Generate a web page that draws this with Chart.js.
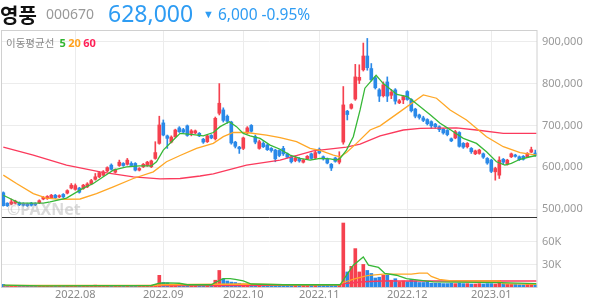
<!DOCTYPE html>
<html>
<head>
<meta charset="utf-8">
<script src="https://cdn.jsdelivr.net/npm/chart.js@4/dist/chart.umd.min.js"></script>
<style>
  html, body { margin: 0; padding: 0; background: #fff; }
  #wrap { position: relative; width: 594px; height: 304px; overflow: hidden; font-family: 'Noto Sans', 'Noto Sans CJK KR', sans-serif; }
  #chart { position: absolute; left: 0; top: 0; }
  .t { position: absolute; white-space: nowrap; line-height: 1; }
</style>
</head>
<body>
<div id="wrap">
  <canvas id="chart" width="594" height="304"></canvas>
  <span class="t" style="left:0;top:0;font:bold 20px 'Noto Sans CJK KR';color:#111">영풍</span>
  <span class="t" style="left:46px;top:4px;font:14px 'Noto Sans';color:#999">000670</span>
  <span class="t" style="left:108px;top:-3px;font:23px 'Noto Sans';color:#2e9cf3">628,000</span>
  <span class="t" style="left:203px;top:3px;font:15.5px 'Noto Sans';color:#2e9cf3"><span style="font-size:11px;position:relative;top:-2px">▼</span> 6,000 -0.95%</span>
  <span class="t" style="left:6px;top:35px;font:10.5px 'Noto Sans CJK KR';color:#888">이동평균선 <span style="font:bold 11px 'Noto Sans';color:#2fb52f">&nbsp;5</span> <span style="font:bold 11px 'Noto Sans';color:#ffa21f">20</span> <span style="font:bold 11px 'Noto Sans';color:#ff1f55">60</span></span>
  <span class="t" style="left:7px;top:198px;font:bold 16px 'Noto Sans';color:rgba(150,150,150,0.35)">©PAXNet</span>
</div>
<script>
// daily candles, thousand won (2022-07-06 .. 2023-01-17)
const opens  = [539,514,512,514,515,513,512,514,513,515,524,525,527,533,529,535,538,550,547,550,549,553,560,571,577,581,591,605,588,604,609,607,609,609,593,601,604,601,621,657,706,675,660,673,694,690,699,681,682,681,667,661,676,668,729,737,722,708,660,648,645,682,700,673,645,657,653,645,641,640,645,632,625,616,621,612,620,632,622,643,625,620,607,622,612,660,734,741,763,808,833,866,836,814,785,771,804,772,785,754,761,781,762,739,725,718,714,709,703,697,691,688,668,670,683,657,649,645,632,633,632,621,617,589,581,619,607,625,629,625,626,625,636,634];
const highs  = [541,515,524,521,517,515,514,516,515,522,530,532,535,535,534,537,546,561,560,552,559,563,571,585,589,592,601,608,596,617,611,621,613,611,599,609,614,617,661,722,713,677,675,691,697,693,701,690,689,683,669,677,678,720,800,742,725,710,662,650,672,697,702,677,665,661,655,647,643,642,650,634,627,627,623,619,628,634,638,646,627,622,609,624,637,793,736,752,846,845,897,908,848,817,788,804,816,786,788,762,771,783,764,741,727,722,716,711,705,699,693,690,670,688,685,659,659,647,641,643,634,623,619,600,625,621,619,634,631,627,628,635,648,641];
const lows   = [507,506,510,512,508,507,506,507,508,513,522,523,525,525,527,527,536,548,545,538,547,551,558,569,575,579,589,593,586,602,602,605,602,591,591,599,602,599,619,655,675,645,658,671,683,682,674,675,680,673,657,659,668,665,725,708,705,655,646,633,642,680,684,656,643,647,640,636,613,625,628,622,610,613,612,610,618,619,620,632,617,608,592,612,608,655,713,739,760,800,830,832,806,787,757,768,757,764,751,752,752,760,732,718,715,709,701,693,693,685,679,675,661,668,648,645,646,633,630,631,621,607,587,569,573,606,605,623,624,616,617,623,635,626];
const closes = [508,508,517,519,510,509,508,509,510,520,528,530,533,527,532,529,544,557,556,540,557,560,568,577,587,589,599,595,594,612,604,617,604,593,597,607,612,615,635,701,677,669,672,689,685,684,676,687,687,675,660,675,670,717,753,712,710,658,650,644,670,694,686,660,661,649,642,640,620,628,632,624,613,622,615,617,626,621,635,634,620,610,598,614,620,749,726,750,816,815,866,838,809,790,770,797,770,779,758,759,769,762,735,722,719,712,704,699,697,690,682,678,663,685,650,648,657,637,639,641,624,610,590,597,617,612,617,632,626,618,619,633,642,628];
// volume, thousand shares
const volumes = [3.5,1.5,1.2,1.5,1.2,1.0,1.2,1.0,1.2,1.5,1.5,1.5,1.3,1.2,1.2,1.3,1.5,2,1.5,1.5,1.5,1.5,1.8,2.5,1.5,1.8,1.5,2.2,1.5,2.2,1.5,1.5,1.5,1.8,1.5,1.5,1.5,1.8,3.5,15.5,6,5.5,3,3,3.5,3,3,2.5,2.5,3,2.5,3,3,9,22,11,8,6.5,6,5,4,4,3.5,3,3,3,3,3,3,2.5,3,2.5,3,2.5,2.5,2.5,2.5,2.5,2.5,2.5,2.5,2.5,2.5,2.5,3.5,85,20,27.5,51,20,30,22,18,12,13,15.5,15.5,9,11,7,8,7,10,8,6,6,7,5,5,5,4.5,4.5,5,4.5,5,4.5,4.5,4,4,4.5,4,4.5,4.5,4,8,4,3.5,3.5,3.5,3,3,3.5,3.5,3];

// moving average lines: [day index, value]
const ma5 = [[0,533],[4,514],[10,514],[11.7,517],[15.8,526],[20,550],[22.5,561],[25,577],[27.5,593],[30.8,601],[34,603],[37,603],[38.3,613],[40,641],[42.5,665],[44.2,681],[47.5,678],[50,675],[52.5,683],[54.2,697],[56.5,709],[58.3,697],[60,681],[61.7,675],[64.2,669],[66.7,653],[69.2,643],[71.7,629],[74.2,621],[76.7,617],[79.2,621],[81.7,620],[83.3,617],[84.2,621],[85.8,641],[87.5,673],[89.2,737],[90.4,789],[93.2,820],[95,800],[98.4,774],[101,769],[102.6,757],[104.7,741],[106.8,725],[109.2,705],[111.7,690],[115,669],[118.3,657],[120.8,637],[123.3,613],[125.4,605],[127,609],[129.2,619],[131.7,625],[133.3,628]];
const ma20 = [[0,581],[3.3,561],[7.5,537],[10.8,526],[14.2,523],[19.2,524],[23.3,537],[27.5,553],[32.5,573],[37.5,589],[40.8,613],[44.2,628],[48.3,645],[52.5,657],[55,673],[57.5,683],[60.8,683],[65.8,677],[69.2,671],[73.3,661],[76.7,645],[79.2,640],[82.5,629],[84.2,625],[85.8,635],[88.3,657],[91.7,689],[94.2,699],[99.2,733],[105,773],[108.3,765],[111.7,737],[115.8,713],[120.8,673],[125,649],[129.2,635],[133.3,629]];
const ma60 = [[0,648],[7.5,629],[15.8,605],[24.2,589],[32.5,577],[39.2,572],[44.2,573],[49.2,579],[52.5,584],[60.8,605],[69.2,617],[77.5,639],[85.8,648],[89.2,655],[94.2,675],[100,689],[104.2,693],[113.3,694],[118.3,689],[125,681],[133.3,681]];
const vma5 = [[0,2.5],[10,1.5],[37,2],[39,5],[41,5.5],[44,5],[46,3],[52,3],[53,6],[55,11],[56.7,11],[58,10],[60,8],[62,4],[70,3],[84.2,3],[87.5,29],[90,40],[91.3,29],[93.8,26],[95.4,18],[98.3,15.6],[100.8,11],[107.5,6.7],[124.2,5.8],[133.3,4.5]];
const vma20 = [[0,2],[38,2],[40,3],[60,4],[70,3],[84,3],[85,6],[88,11],[91,15],[95,17],[102,17],[104,18.5],[106,18.5],[107,14],[109,10],[112,8],[124,8],[125,4.5],[133.3,3.5]];
const vma60 = [[0,1.5],[60,2],[75,2.5],[84,2.8],[86,5],[90,7],[95,8],[133.3,8]];

const priceTicks = [500, 600, 700, 800, 900];
const volTicks = [30, 60];
const monthIdx = [18, 40, 60, 79, 101, 122];
const monthLabels = ['2022.08', '2022.09', '2022.10', '2022.11', '2022.12', '2023.01'];

const UP = '#f5414f', DOWN = '#2a89e8';
const G = '#37b837', O = '#ffa726', R = '#fb3a5c';
const colorOf = i => closes[i] >= opens[i] ? UP : DOWN;
const days = opens.map((_, i) => i);
const candleColors = days.map(colorOf);

const lineDs = (pts, color, axis) => ({
  type: 'line', data: pts.map(([x, y]) => ({ x, y })), yAxisID: axis,
  borderColor: color, borderWidth: 1.3, pointRadius: 0, tension: 0, order: 1
});

const frame = {
  id: 'frame',
  afterDatasetsDraw(chart) {
    const { ctx, chartArea: a, scales } = chart;
    ctx.save();
    ctx.strokeStyle = '#d0d0d0';
    ctx.lineWidth = 1;
    ctx.strokeRect(a.left - 0.5, a.top + 0.5, a.right - a.left + 0.5, a.bottom - a.top);
    ctx.strokeStyle = '#333';
    ctx.beginPath();
    const yy = Math.round(scales.yv.top) + 0.5;
    ctx.moveTo(a.left, yy);
    ctx.lineTo(a.right, yy);
    ctx.stroke();
    ctx.restore();
  }
};

const tickFont = { family: 'Noto Sans', size: 11 };

new Chart(document.getElementById('chart'), {
  type: 'bar',
  data: {
    datasets: [
      lineDs(ma5, G, 'y'), lineDs(ma20, O, 'y'), lineDs(ma60, R, 'y'),
      lineDs(vma5, G, 'yv'), lineDs(vma20, O, 'yv'), lineDs(vma60, R, 'yv'),
      { data: days.map(i => ({ x: i, y: [lows[i], highs[i]] })), yAxisID: 'y', backgroundColor: candleColors,
        barThickness: 1, grouped: false, order: 2 },
      { data: days.map(i => ({ x: i, y: [opens[i], closes[i]] })), yAxisID: 'y', backgroundColor: candleColors,
        barThickness: 3, minBarLength: 1, grouped: false, order: 2 },
      { data: days.map(i => ({ x: i, y: volumes[i] })), yAxisID: 'yv', backgroundColor: candleColors,
        barThickness: 3, grouped: false, order: 2 }
    ]
  },
  options: {
    responsive: false,
    animation: false,
    layout: { padding: { left: 2, top: 30, right: 0, bottom: 0 } },
    plugins: { legend: { display: false }, tooltip: { enabled: false } },
    scales: {
      x: {
        type: 'linear', min: -0.325, max: 133.425, offset: false,
        grid: { color: '#ececec', drawTicks: false, offset: false },
        border: { display: false },
        afterBuildTicks: s => { s.ticks = monthIdx.map(v => ({ value: v })); },
        afterFit: s => { s.height = 17; },
        ticks: { padding: 1, color: '#8a8a8a', font: tickFont, maxRotation: 0, autoSkip: false,
          callback: v => monthLabels[monthIdx.indexOf(v)] }
      },
      y: {
        type: 'linear', position: 'right', stack: 'main', stackWeight: 187,
        min: 480.9, max: 928.2,
        grid: { color: '#ececec', drawTicks: false },
        border: { display: false },
        afterBuildTicks: s => { s.ticks = priceTicks.map(v => ({ value: v })); },
        afterFit: s => { s.width = 57; },
        ticks: { padding: 5, color: '#999', font: tickFont,
          callback: v => (v * 1000).toLocaleString('en-US') }
      },
      yv: {
        type: 'linear', position: 'right', stack: 'main', stackWeight: 70,
        min: 0, max: 93,
        grid: { color: '#ececec', drawTicks: false },
        border: { display: false },
        afterBuildTicks: s => { s.ticks = volTicks.map(v => ({ value: v })); },
        afterFit: s => { s.width = 57; },
        ticks: { padding: 5, color: '#999', font: tickFont, callback: v => v + 'K' }
      }
    }
  },
  plugins: [frame]
});
</script>
</body>
</html>
